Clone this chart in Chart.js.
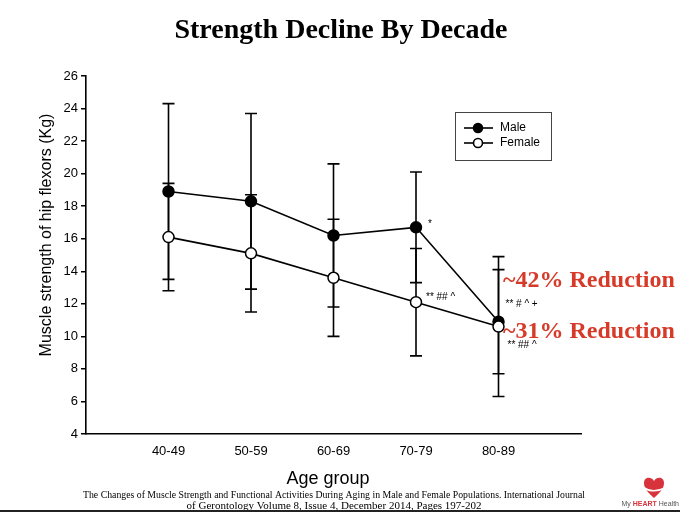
<!DOCTYPE html>
<html>
<head>
<meta charset="utf-8">
<script src="https://cdn.jsdelivr.net/npm/chart.js@4.4.1/dist/chart.umd.min.js"></script>
<style>
    html, body { margin: 0; padding: 0; background: #fff; }
    #wrap { width: 680px; height: 512px; position: relative; }
</style>
</head>
<body>
<div id="wrap"><canvas id="chart" width="680" height="512"></canvas></div>
<script>
// values (kg)
const ageGroups = ["40-49", "50-59", "60-69", "70-79", "80-89"];
const male = [18.9, 18.3, 16.2, 16.7, 10.9];
const maleLow = [13.5, 12.9, 11.8, 13.3, 6.3];
const maleHigh = [24.3, 23.7, 20.6, 20.1, 14.9];
const female = [16.1, 15.1, 13.6, 12.1, 10.6];
const femaleLow = [12.8, 11.5, 10.0, 8.8, 7.7];
const femaleHigh = [19.4, 18.7, 17.2, 15.4, 14.1];
const maleMarks = ["", "", "", "*", "** # ^ +"];
const femaleMarks = ["", "", "", "** ## ^", "** ## ^"];
const reductions = ["~42% Reduction", "~31% Reduction"];

const SANS = "'Liberation Sans', Arial, sans-serif";
const SERIF = "'Liberation Serif', 'Times New Roman', serif";

function points(values) {
    return values.map((v, i) => ({ x: i, y: v }));
}

// vertical error bars with caps, under the lines
const errorBars = {
    id: "errorBars",
    beforeDatasetsDraw(chart) {
        const { ctx, scales: { x, y } } = chart;
        ctx.save();
        ctx.strokeStyle = "#000";
        ctx.lineWidth = 1.6;
        [[maleLow, maleHigh], [femaleLow, femaleHigh]].forEach(([lo, hi]) => {
            lo.forEach((l, i) => {
                const px = x.getPixelForValue(i);
                const y1 = y.getPixelForValue(l);
                const y2 = y.getPixelForValue(hi[i]);
                ctx.beginPath();
                ctx.moveTo(px, y1);
                ctx.lineTo(px, y2);
                ctx.moveTo(px - 6, y1);
                ctx.lineTo(px + 6, y1);
                ctx.moveTo(px - 6, y2);
                ctx.lineTo(px + 6, y2);
                ctx.stroke();
            });
        });
        ctx.restore();
    },
};

function drawHeart(ctx, cx, cy) {
    ctx.save();
    ctx.fillStyle = "#d8323c";
    ctx.beginPath();
    ctx.moveTo(cx, cy + 11);
    ctx.bezierCurveTo(cx - 5, cy + 6, cx - 10, cy + 2, cx - 10, cy - 4);
    ctx.bezierCurveTo(cx - 10, cy - 10, cx - 3, cy - 11, cx, cy - 6);
    ctx.bezierCurveTo(cx + 3, cy - 11, cx + 10, cy - 10, cx + 10, cy - 4);
    ctx.bezierCurveTo(cx + 10, cy + 2, cx + 5, cy + 6, cx, cy + 11);
    ctx.fill();
    ctx.strokeStyle = "#fff";
    ctx.lineWidth = 1.6;
    ctx.beginPath();
    ctx.moveTo(cx - 11, cy);
    ctx.quadraticCurveTo(cx - 2, cy + 7, cx + 11, cy + 1);
    ctx.stroke();
    ctx.restore();
}

const decorations = {
    id: "decorations",
    afterDraw(chart) {
        const { ctx, scales: { x, y } } = chart;
        ctx.save();

        // title
        ctx.fillStyle = "#000";
        ctx.textAlign = "center";
        ctx.textBaseline = "alphabetic";
        ctx.font = "bold 28px " + SERIF;
        ctx.fillText("Strength Decline By Decade", 341, 38);

        // axis titles
        ctx.font = "16px " + SANS;
        ctx.textBaseline = "middle";
        ctx.save();
        ctx.translate(47, 235);
        ctx.rotate(-Math.PI / 2);
        ctx.fillText("Muscle strength of hip flexors (Kg)", 0, 0);
        ctx.restore();
        ctx.font = "18px " + SANS;
        ctx.fillText("Age group", 328, 479);

        // citation
        ctx.font = "11px " + SERIF;
        ctx.textBaseline = "alphabetic";
        ctx.fillText("The Changes of Muscle Strength and Functional Activities During Aging in Male and Female Populations. International Journal", 334, 498, 502);
        ctx.fillText("of Gerontology Volume 8, Issue 4, December 2014, Pages 197-202", 334, 508.5);

        // legend
        ctx.strokeStyle = "#444";
        ctx.lineWidth = 1;
        ctx.strokeRect(455.5, 112.5, 96, 48);
        [["Male", "#000", 128], ["Female", "#fff", 143]].forEach(([label, fill, ly]) => {
            ctx.strokeStyle = "#000";
            ctx.lineWidth = 1.6;
            ctx.beginPath();
            ctx.moveTo(464, ly);
            ctx.lineTo(493, ly);
            ctx.stroke();
            ctx.beginPath();
            ctx.arc(478, ly, 4.5, 0, Math.PI * 2);
            ctx.fillStyle = fill;
            ctx.fill();
            ctx.stroke();
            ctx.fillStyle = "#000";
            ctx.font = "12px " + SANS;
            ctx.textAlign = "left";
            ctx.textBaseline = "middle";
            ctx.fillText(label, 500, ly);
        });

        // significance marks next to the points
        ctx.font = "10px " + SANS;
        ctx.textAlign = "left";
        ctx.textBaseline = "middle";
        const maleOff = [null, null, null, [12, -3], [7, -17]];
        const femaleOff = [null, null, null, [10, -5], [9, 19]];
        maleMarks.forEach((m, i) => {
            if (!m) return;
            ctx.fillText(m, x.getPixelForValue(i) + maleOff[i][0], y.getPixelForValue(male[i]) + maleOff[i][1]);
        });
        femaleMarks.forEach((m, i) => {
            if (!m) return;
            ctx.fillText(m, x.getPixelForValue(i) + femaleOff[i][0], y.getPixelForValue(female[i]) + femaleOff[i][1]);
        });

        // reduction callouts
        ctx.fillStyle = "#d63b2a";
        ctx.font = "bold 24px " + SERIF;
        ctx.textBaseline = "alphabetic";
        ctx.fillText(reductions[0], 503, 287);
        ctx.fillText(reductions[1], 503, 338);

        // logo
        drawHeart(ctx, 654, 487);
        ctx.font = "7px " + SANS;
        let w = ctx.measureText("My  Health").width;
        ctx.font = "bold 7px " + SANS;
        w += ctx.measureText("HEART").width;
        let lx = 679 - w;
        ctx.font = "7px " + SANS;
        ctx.fillStyle = "#555";
        ctx.fillText("My ", lx, 506);
        lx += ctx.measureText("My ").width;
        ctx.font = "bold 7px " + SANS;
        ctx.fillStyle = "#d8323c";
        ctx.fillText("HEART", lx, 506);
        lx += ctx.measureText("HEART").width;
        ctx.font = "7px " + SANS;
        ctx.fillStyle = "#555";
        ctx.fillText(" Health", lx, 506);

        // frame line at the bottom of the slide
        ctx.fillStyle = "#222";
        ctx.fillRect(0, 510, 680, 2);

        ctx.restore();
    },
};

new Chart(document.getElementById("chart"), {
    type: "line",
    data: {
        datasets: [
            {
                label: "Male",
                data: points(male),
                borderColor: "#000",
                backgroundColor: "#000",
                borderWidth: 1.6,
                pointRadius: 5.5,
                pointBorderWidth: 1.5,
                pointBackgroundColor: "#000",
                pointBorderColor: "#000",
                tension: 0,
                order: 2,
            },
            {
                label: "Female",
                data: points(female),
                borderColor: "#000",
                backgroundColor: "#fff",
                borderWidth: 1.6,
                pointRadius: 5.5,
                pointBorderWidth: 1.5,
                pointBackgroundColor: "#fff",
                pointBorderColor: "#000",
                tension: 0,
                order: 1,
            },
        ],
    },
    options: {
        responsive: false,
        animation: false,
        layout: { padding: { left: 0, top: 76, right: 99, bottom: 0 } },
        plugins: {
            legend: { display: false },
            title: { display: false },
            tooltip: { enabled: false },
        },
        scales: {
            x: {
                type: "linear",
                min: -1,
                max: 5,
                afterFit: (s) => { s.height = 78; },
                grid: { display: false, drawTicks: false },
                border: { display: true, color: "#000", width: 1.6 },
                ticks: {
                    stepSize: 1,
                    autoSkip: false,
                    maxRotation: 0,
                    padding: 10,
                    color: "#000",
                    font: { family: SANS, size: 13 },
                    callback: (v) => ageGroups[v] || "",
                },
            },
            y: {
                min: 4,
                max: 26,
                afterFit: (s) => { s.width = 86; },
                grid: { drawOnChartArea: false, drawTicks: true, tickLength: 5, color: "#000", lineWidth: 1.5 },
                border: { display: true, color: "#000", width: 1.6 },
                ticks: {
                    stepSize: 2,
                    padding: 3,
                    color: "#000",
                    font: { family: SANS, size: 13 },
                },
            },
        },
    },
    plugins: [errorBars, decorations],
});
</script>
</body>
</html>
